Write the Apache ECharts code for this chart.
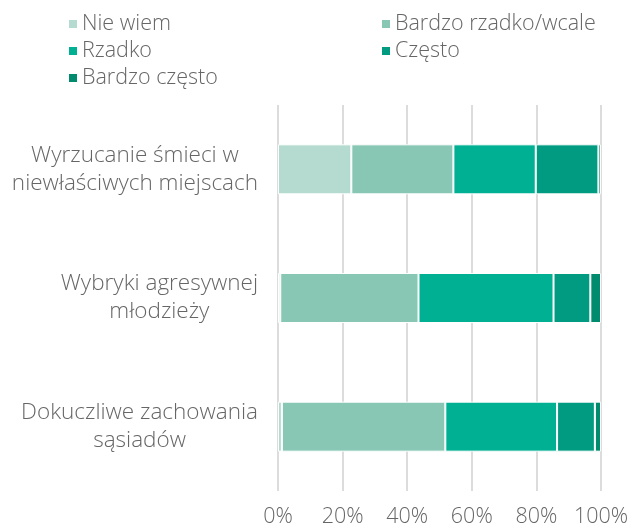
<!DOCTYPE html>
<html><head><meta charset="utf-8">
<script src="https://cdn.jsdelivr.net/npm/echarts@6/dist/echarts.min.js"></script>
<style>html,body{margin:0;padding:0;background:#fff}#c{width:632px;height:528px}</style>
</head><body><div id="c"></div>
<script>
const categories = ['Wyrzucanie śmieci w\nniewłaściwych miejscach', 'Wybryki agresywnej\nmłodzieży', 'Dokuczliwe zachowania\nsąsiadów'];
const seriesNames = ['Nie wiem', 'Bardzo rzadko/wcale', 'Rzadko', 'Często', 'Bardzo często'];
const nieWiem = [22.7, 0.7, 1.2];
const bardzoRzadko = [31.6, 42.8, 50.6];
const rzadko = [25.5, 41.8, 34.6];
const czesto = [19.4, 11.4, 11.7];
const bardzoCzesto = [0.8, 3.3, 1.9];
const colors = ['#b5dbd0', '#88c7b4', '#00b092', '#009b80', '#008a6e'];
const values = [nieWiem, bardzoRzadko, rzadko, czesto, bardzoCzesto];

const font = 'Open Sans';
const txt = '#666';
const legendText = {fontFamily: font, fontSize: 21.5, color: txt, fontWeight: 300, padding: [0,0,0,-1]};
const chart = echarts.init(document.getElementById('c'), null, {renderer: 'canvas'});
chart.setOption({
  animation: false,
  color: colors,
  legend: [
    {left: 62, top: 8, orient: 'vertical', itemWidth: 10, itemHeight: 10, itemGap: 5,
     icon: 'rect', data: ['Nie wiem', 'Rzadko', 'Bardzo często'], textStyle: legendText},
    {left: 375, top: 8, orient: 'vertical', itemWidth: 10, itemHeight: 10, itemGap: 5,
     icon: 'rect', data: ['Bardzo rzadko/wcale', 'Często'], textStyle: legendText}
  ],
  grid: {left: 278, right: 31, top: 105, bottom: 37, containLabel: false},
  xAxis: {
    type: 'value', min: 0, max: 100, interval: 20,
    axisLabel: {formatter: '{value}%', fontFamily: font, fontSize: 21.5, color: txt, fontWeight: 300, margin: 15},
    axisLine: {show: false}, axisTick: {show: false},
    splitLine: {show: true, lineStyle: {color: '#dcdcdc', width: 2}}
  },
  yAxis: {
    type: 'category', data: categories, inverse: true,
    axisLine: {show: false}, axisTick: {show: false},
    axisLabel: {
      margin: 20, align: 'right',
      formatter: v => v.split('\n').map(l => '{c|' + l + '}').join('\n'),
      rich: {c: {fontFamily: font, fontSize: 22.5, color: txt, fontWeight: 300, lineHeight: 28, align: 'center'}}
    }
  },
  series: seriesNames.map((n, i) => ({
    name: n, type: 'bar', stack: 'total', barWidth: 50,
    itemStyle: {color: colors[i], borderColor: '#fff', borderWidth: 1},
    data: values[i]
  }))
});
</script></body></html>
